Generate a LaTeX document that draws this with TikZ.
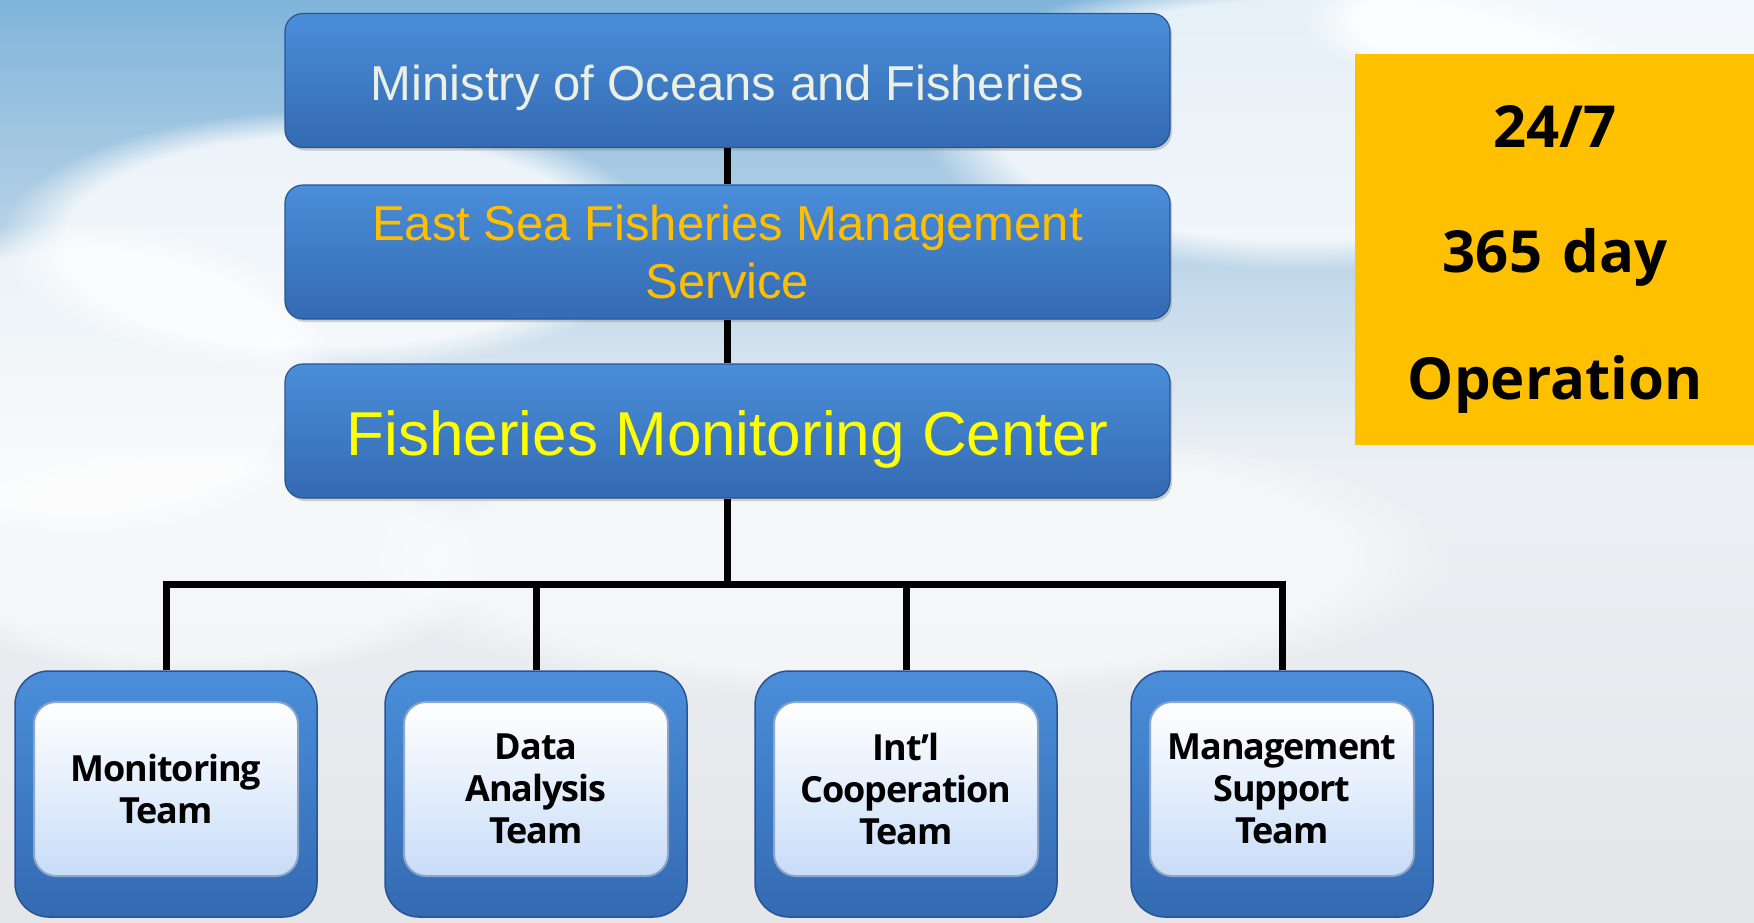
\documentclass[tikz,border=0pt]{standalone}
\usepackage{fontspec}
\setmainfont{Liberation Sans}
\newfontfamily\teamfont[LetterSpace=-3]{Open Sans}
\newfontfamily\panelfont{Open Sans}
\usetikzlibrary{shadows,fadings}
\definecolor{skyblue}{RGB}{128,180,218}
\definecolor{skywhite}{RGB}{236,240,244}
\definecolor{skylow}{RGB}{228,230,233}
\definecolor{boxtop}{RGB}{74,142,218}
\definecolor{boxbot}{RGB}{52,106,178}
\definecolor{boxedge}{RGB}{40,84,148}
\definecolor{goldtxt}{RGB}{255,190,0}
\definecolor{yeltxt}{RGB}{255,255,0}
\definecolor{mintxt}{RGB}{236,240,226}
\definecolor{panel}{RGB}{255,192,0}
\definecolor{innerbot}{RGB}{200,220,248}
\definecolor{inneredge}{RGB}{140,165,200}
\tikzset{
  bluebox/.style={rectangle, rounded corners=18pt, top color=boxtop, bottom color=boxbot,
    draw=boxedge, line width=1.2pt, minimum width=885pt, minimum height=134pt,
    align=center, drop shadow={opacity=0.35, shadow xshift=2pt, shadow yshift=-3pt}},
  outerbox/.style={rectangle, rounded corners=34pt, top color=boxtop, bottom color=boxbot,
    draw=boxedge, line width=1.5pt, minimum width=302pt, minimum height=246pt},
  innerbox/.style={rectangle, rounded corners=22pt, top color=white, bottom color=innerbot,
    middle color={rgb,255:red,228;green,238;blue,252}, draw=inneredge, line width=2pt,
    minimum width=264pt, minimum height=174pt, align=center,
    font=\teamfont\bfseries\fontsize{36}{42}\selectfont},
  cloud/.style={white, path fading=circle with fuzzy edge 20 percent},
  link/.style={line width=7pt, black}
}
\begin{document}
\begin{tikzpicture}[x=1pt,y=-1pt]
\useasboundingbox (0,0) rectangle (1754,922);
% background sky
\shade[top color=skyblue, bottom color=skylow, middle color=skywhite] (0,0) rectangle (1754,922);
\fill[cloud, opacity=0.8] (330,240) ellipse (330 and 130);
\fill[cloud, opacity=0.7] (80,380) ellipse (260 and 160);
\fill[cloud, opacity=0.8] (1300,120) ellipse (380 and 150);
\fill[cloud, opacity=0.9] (1600,20) ellipse (300 and 80);
\fill[cloud, opacity=0.5] (900,560) ellipse (560 and 140);
\fill[cloud, opacity=0.5] (200,560) ellipse (300 and 120);

% top boxes
\node[bluebox, font=\fontsize{49}{54}\selectfont, text=mintxt, text depth=0pt] (ministry) at (727.5,80.5) {\raisebox{-5pt}{Ministry of Oceans and Fisheries}};
\node[bluebox, font=\fontsize{49}{58}\selectfont, text=goldtxt] (esfms) at (727.5,252) {East Sea Fisheries Management\\Service};
\node[bluebox, font=\fontsize{62}{66}\selectfont, text=yeltxt, text height=54pt, text depth=6pt] (fmc) at (727.5,431) {Fisheries Monitoring Center};

% team boxes
\foreach \n/\x in {t1/166, t2/536, t3/906, t4/1282}{
  \node[outerbox] (\n) at (\x,794) {};
}
\node[innerbox] (i1) at (166,789) {Monitoring\\Team};
\node[innerbox] (i2) at (536,789) {Data\\Analysis\\Team};
\node[innerbox] (i3) at (906,789) {Int’l\\Cooperation\\Team};
\node[innerbox] (i4) at (1282,789) {Management\\Support\\Team};

% connectors
\coordinate (bus) at (727.5,584);
\draw[link] (ministry.south) -- (esfms.north);
\draw[link] (esfms.south) -- (fmc.north);
\draw[link] (fmc.south) -- (bus);
\draw[link, line cap=rect] (t1.north |- bus) -- (t4.north |- bus);
\draw[link] (t1.north) -- (t1.north |- bus);
\draw[link] (t2.north) -- (t2.north |- bus);
\draw[link] (t3.north) -- (t3.north |- bus);
\draw[link] (t4.north) -- (t4.north |- bus);

% yellow panel
\fill[panel] (1355,54) rectangle (1754,445);
\node[font=\panelfont\bfseries\fontsize{58}{60}\selectfont] (p1) at (1555,126) {24/7};
\node[font=\panelfont\bfseries\fontsize{58}{60}\selectfont] (p2) at (1555,257) {365\hspace{0.35em}day};
\node[font=\panelfont\bfseries\fontsize{58}{60}\selectfont] (p3) at (1555,384) {Operation};
\end{tikzpicture}
\end{document}
